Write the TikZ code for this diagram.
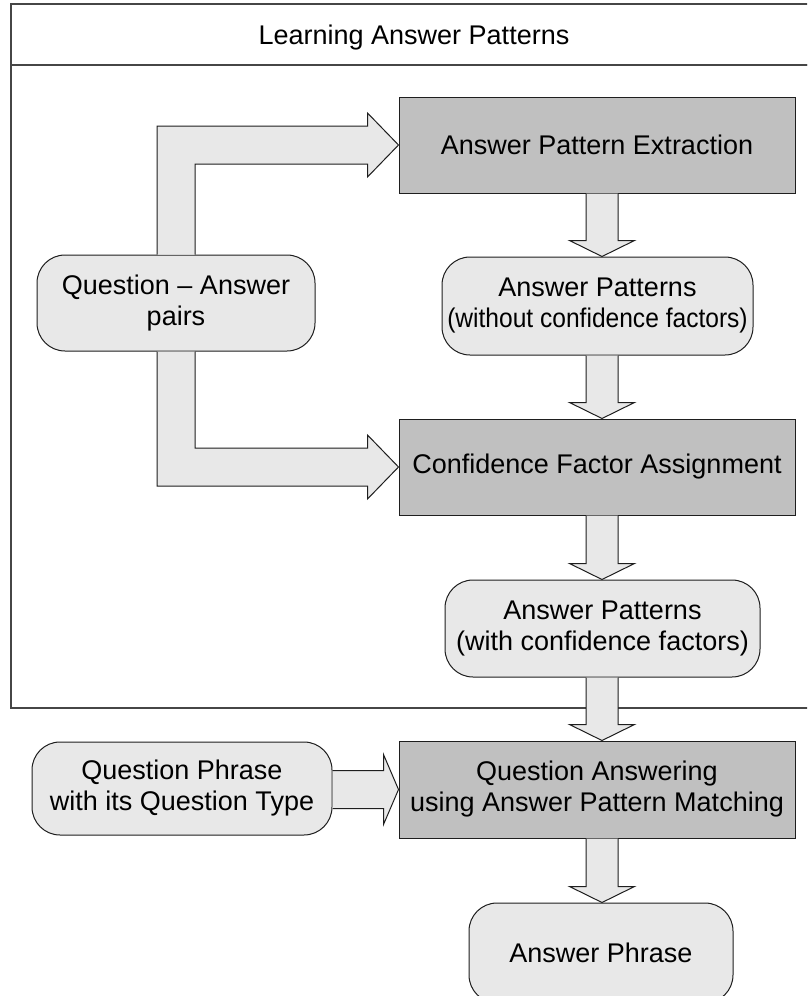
\documentclass[tikz,border=0pt]{standalone}
\usepackage{fontspec}
\setmainfont{Liberation Sans}
\usetikzlibrary{calc}
\definecolor{procgray}{RGB}{192,192,192}
\definecolor{boxlight}{RGB}{232,232,232}
\definecolor{edgecol}{RGB}{30,30,30}
\definecolor{framecol}{RGB}{70,70,70}
\begin{document}
\begin{tikzpicture}[x=1pt,y=-1pt,
  font=\fontsize{27}{31}\selectfont,
  edge/.style={draw=edgecol, line width=1pt},
  proc/.style={edge, fill=procgray, inner sep=0pt, align=center},
  store/.style={edge, fill=boxlight, rounded corners=28pt, inner sep=0pt, align=center},
  blk/.style={edge, fill=boxlight, line join=miter},
  frame/.style={draw=framecol, line width=1.2pt}
]
\useasboundingbox (0,0) rectangle (807,996);
\begin{scope}
\clip (0,0) rectangle (807,996);

% group frame with its heading strip
\draw[frame] (11,4) rectangle (830,65);
\draw[frame] (11,65) rectangle (830,708);
\node[anchor=base] (title) at (414,44) {Learning Answer Patterns};

% column axis for the vertical block arrows
\coordinate (axis) at (602,0);

% boxes
\node[proc, minimum width=396pt, minimum height=96pt] (ape) at (597,145) {Answer Pattern Extraction};
\node[store, minimum width=311pt, minimum height=98pt] (apw) at (597.5,306) {Answer Patterns\\\scalebox{0.91}[1]{(without confidence factors)}};
\node[store, minimum width=278pt, minimum height=96pt] (qa) at (176,303) {Question -- Answer\\pairs};
\node[proc, minimum width=396pt, minimum height=96pt] (cfa) at (597,467) {Confidence Factor Assignment};
\node[store, minimum width=315pt, minimum height=97pt] (apc) at (602.5,628.5) {Answer Patterns\\(with confidence factors)};
\node[proc, minimum width=396pt, minimum height=97pt] (qam) at (597,789.5) {Question Answering\\using Answer Pattern Matching};
\node[store, minimum width=300pt, minimum height=93pt] (qp) at (182,788.5) {Question Phrase\\with its Question Type};
\node[store, minimum width=264pt, minimum height=100pt] (aph) at (601,953) {Answer Phrase};

% vertical block arrows: top box -> lower box
\foreach \a/\b in {ape/apw, apw/cfa, cfa/apc, apc/qam, qam/aph}{
  \draw[blk] let \p1=(\a.south -| axis), \p2=(\b.north -| axis) in
    (\x1-16pt,\y1) -- (\x1-16pt,\y2+16pt) -- (\x1-32.5pt,\y2+16pt) -- (\x1,\y2)
    -- (\x1+32.5pt,\y2+16pt) -- (\x1+16pt,\y2+16pt) -- (\x1+16pt,\y1);
}

% elbow arrow: pairs -> extraction
\draw[blk] let \p1=(qa.north), \p2=(ape.west) in
  (\x1-19pt,\y1) -- (\x1-19pt,\y2+19pt) -- (\x2-31pt,\y2+19pt) -- (\x2-31pt,\y2+32pt)
  -- (\x2,\y2) -- (\x2-31pt,\y2-32pt) -- (\x2-31pt,\y2-19pt) -- (\x1+19pt,\y2-19pt)
  -- (\x1+19pt,\y1);

% elbow arrow: pairs -> confidence assignment
\draw[blk] let \p1=(qa.south), \p2=(cfa.west) in
  (\x1-19pt,\y1) -- (\x1-19pt,\y2-19pt) -- (\x2-31pt,\y2-19pt) -- (\x2-31pt,\y2-32pt)
  -- (\x2,\y2) -- (\x2-31pt,\y2+32pt) -- (\x2-31pt,\y2+19pt) -- (\x1+19pt,\y2+19pt)
  -- (\x1+19pt,\y1);

% horizontal arrow: question phrase -> answering
\draw[blk] let \p1=(qp.east), \p2=(qam.west) in
  (\x1,\y2+19pt) -- (\x2-15pt,\y2+19pt) -- (\x2-15pt,\y2+35pt) -- (\x2,\y2)
  -- (\x2-15pt,\y2-35pt) -- (\x2-15pt,\y2-19pt) -- (\x1,\y2-19pt);
\end{scope}
\end{tikzpicture}
\end{document}
